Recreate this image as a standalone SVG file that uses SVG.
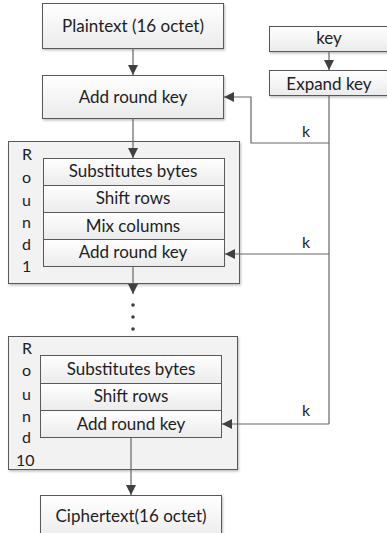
<svg xmlns="http://www.w3.org/2000/svg" width="387" height="533" viewBox="0 0 387 533">
  <defs>
    <linearGradient id="boxFill" x1="0" y1="0" x2="0" y2="1">
      <stop offset="0" stop-color="#ffffff"/>
      <stop offset="1" stop-color="#ebebeb"/>
    </linearGradient>
    <filter id="shadow" x="-10%" y="-10%" width="120%" height="130%">
      <feDropShadow dx="1" dy="1.5" stdDeviation="1" flood-color="#000" flood-opacity="0.25"/>
    </filter>
    <marker id="arrow" viewBox="0 0 10 10" refX="10" refY="5" markerWidth="10" markerHeight="10" markerUnits="userSpaceOnUse" orient="auto">
      <path d="M0,0 L10,5 L0,10 z" fill="#404040"/>
    </marker>
  </defs>
  <style>
    .box { fill: url(#boxFill); stroke: #595959; stroke-width: 1; filter: url(#shadow); }
    .row { fill: url(#boxFill); stroke: #595959; stroke-width: 1; }
    .round { fill: #f2f2f2; stroke: #595959; stroke-width: 1; filter: url(#shadow); }
    .lbl { font-family: Lato, "Open Sans", "Liberation Sans", sans-serif; font-size: 17px; fill: #1e1e1e; text-anchor: middle; }
    .side { font-family: Lato, "Open Sans", "Liberation Sans", sans-serif; font-size: 16px; fill: #1e1e1e; }
    .wire { fill: none; stroke: #666666; stroke-width: 1.2; }
  </style>

  <rect width="387" height="533" fill="#ffffff"/>

  <!-- Input block -->
  <g id="plaintext">
    <rect class="box" x="42.5" y="3.5" width="181" height="45"/>
    <text class="lbl" x="133" y="32">Plaintext (16 octet)</text>
  </g>

  <g id="add-round-key-0">
    <rect class="box" x="42.5" y="75.5" width="181" height="43"/>
    <text class="lbl" x="133" y="103">Add round key</text>
  </g>

  <!-- Key schedule -->
  <g id="key">
    <rect class="box" x="269.5" y="26.5" width="120" height="25"/>
    <text class="lbl" x="329" y="43.5">key</text>
  </g>

  <g id="expand-key">
    <rect class="box" x="269.5" y="70.5" width="120" height="25"/>
    <text class="lbl" x="329" y="90">Expand key</text>
  </g>

  <!-- Round 1 -->
  <g id="round-1">
    <rect class="round" x="8.5" y="141.5" width="231" height="142"/>
    <text class="side" x="22" y="159.5">R</text>
    <text class="side" x="22" y="183">o</text>
    <text class="side" x="22" y="206">u</text>
    <text class="side" x="22" y="228">n</text>
    <text class="side" x="22" y="250">d</text>
    <text class="side" x="22" y="272">1</text>
    <rect class="row" x="43.5" y="158.5" width="181" height="27"/>
    <text class="lbl" x="133" y="177">Substitutes bytes</text>
    <rect class="row" x="43.5" y="185.5" width="181" height="27"/>
    <text class="lbl" x="133" y="204">Shift rows</text>
    <rect class="row" x="43.5" y="212.5" width="181" height="27"/>
    <text class="lbl" x="133" y="232">Mix columns</text>
    <rect class="row" x="43.5" y="239.5" width="181" height="27"/>
    <text class="lbl" x="133" y="258">Add round key</text>
  </g>

  <!-- Round 10 -->
  <g id="round-10">
    <rect class="round" x="8.5" y="336.5" width="229" height="133"/>
    <text class="side" x="22" y="354">R</text>
    <text class="side" x="22" y="376">o</text>
    <text class="side" x="22" y="400">u</text>
    <text class="side" x="22" y="422">n</text>
    <text class="side" x="22" y="443">d</text>
    <text class="side" x="16" y="466">10</text>
    <rect class="row" x="40.5" y="355.5" width="181" height="28"/>
    <text class="lbl" x="131" y="375">Substitutes bytes</text>
    <rect class="row" x="40.5" y="383.5" width="181" height="27"/>
    <text class="lbl" x="131" y="402">Shift rows</text>
    <rect class="row" x="40.5" y="410.5" width="181" height="27"/>
    <text class="lbl" x="131" y="430">Add round key</text>
  </g>

  <!-- Output block -->
  <g id="ciphertext">
    <rect class="box" x="40.5" y="495.5" width="181" height="45"/>
    <text class="lbl" x="131" y="522">Ciphertext(16 octet)</text>
  </g>

  <!-- Connectors -->
  <g id="connectors">
    <path class="wire" d="M133,48 V75" marker-end="url(#arrow)"/>
    <path class="wire" d="M133,118 V158" marker-end="url(#arrow)"/>
    <path class="wire" d="M133,267 V294" marker-end="url(#arrow)"/>
    <circle cx="133" cy="305" r="1.8" fill="#404040"/>
    <circle cx="133" cy="317" r="1.8" fill="#404040"/>
    <circle cx="133" cy="329" r="1.8" fill="#404040"/>
    <path class="wire" d="M131,438 V495" marker-end="url(#arrow)"/>

    <path class="wire" d="M329,51 V70" marker-end="url(#arrow)"/>
    <path class="wire" d="M329,96 V424"/>
    <path class="wire" d="M329,143 H251 V97 H224" marker-end="url(#arrow)"/>
    <path class="wire" d="M329,254 H225" marker-end="url(#arrow)"/>
    <path class="wire" d="M329,424 H222" marker-end="url(#arrow)"/>
    <text class="side" x="306" y="137" text-anchor="middle">k</text>
    <text class="side" x="306" y="248" text-anchor="middle">k</text>
    <text class="side" x="306" y="416" text-anchor="middle">k</text>
  </g>
</svg>
